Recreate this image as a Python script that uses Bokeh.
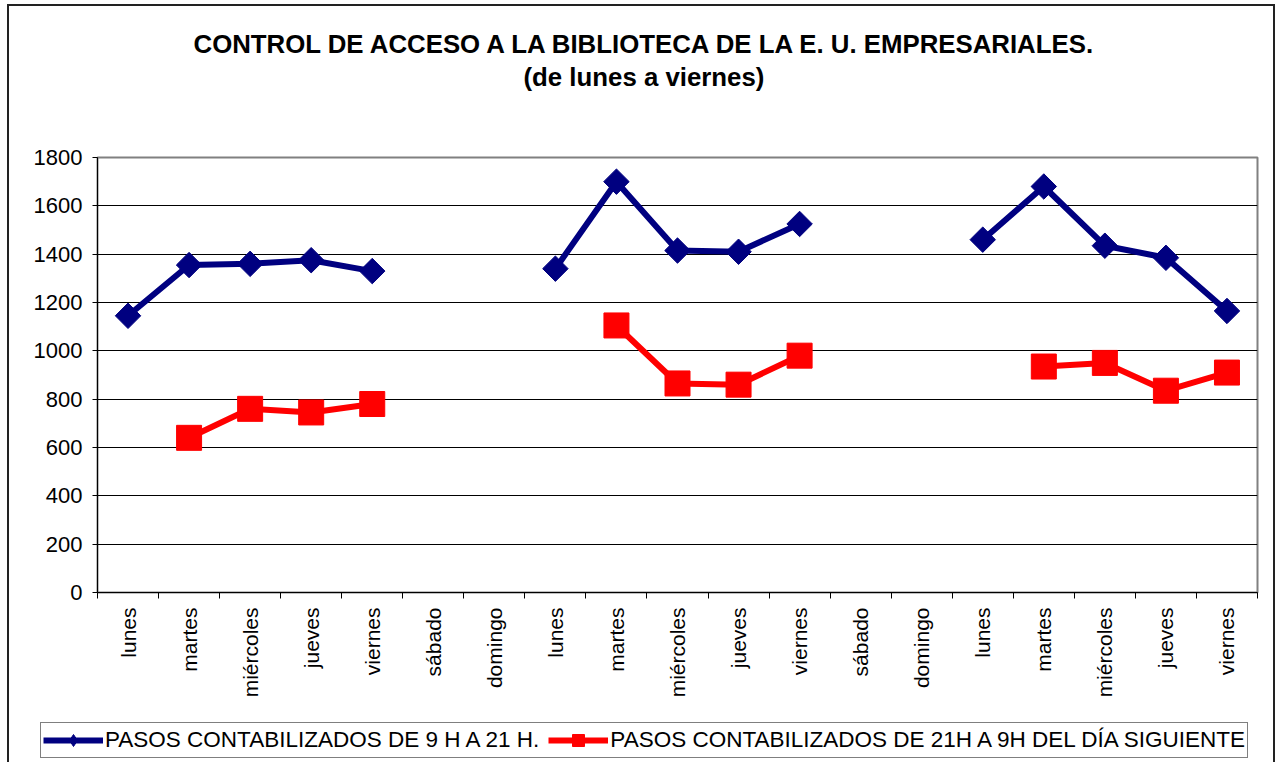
import math
import numpy as np
from bokeh.plotting import figure
from bokeh.layouts import column
from bokeh.models import Range1d, FixedTicker, Title, Legend, LegendItem
from bokeh.embed import file_html
from bokeh.resources import INLINE

nan = np.nan

days = ["lunes", "martes", "miércoles", "jueves", "viernes", "sábado", "domingo",
        "lunes", "martes", "miércoles", "jueves", "viernes", "sábado", "domingo",
        "lunes", "martes", "miércoles", "jueves", "viernes"]

day_counts = [1145, 1355, 1360, 1375, 1330, nan, nan,
              1340, 1700, 1415, 1410, 1525, nan, nan,
              1460, 1680, 1435, 1385, 1165]

night_counts = [nan, 640, 760, 745, 780, nan, nan,
                nan, 1105, 865, 860, 980, nan, nan,
                nan, 935, 950, 835, 910]

y_ticks = [0, 200, 400, 600, 800, 1000, 1200, 1400, 1600, 1800]

title_1 = "CONTROL DE ACCESO A LA BIBLIOTECA DE LA E. U. EMPRESARIALES."
title_2 = "(de lunes a viernes)"
label_day = "PASOS CONTABILIZADOS DE 9 H A 21 H."
label_night = "PASOS CONTABILIZADOS DE 21H A 9H DEL DÍA SIGUIENTE"

NAVY = "#000080"
RED = "#FF0000"
FONT = "Liberation Sans"

x = [i + 0.5 for i in range(len(days))]
day_arr = np.array(day_counts, dtype=float)
night_arr = np.array(night_counts, dtype=float)

# ---------------- main chart ----------------
p = figure(width=1264, height=710, output_backend="svg", toolbar_location=None,
           x_range=Range1d(0, len(days)), y_range=Range1d(0, 1800),
           min_border_left=88, min_border_right=16, min_border_top=151, min_border_bottom=124)
p.frame_align = False
p.background_fill_color = "white"
p.border_fill_color = "white"
p.outline_line_color = "#808080"
p.outline_line_width = 2

# titles: p.title is outermost; items added to "above" stack outward from the frame
p.title.text = title_1
p.title.align = "left"
p.title.offset = 96
p.title.standoff = 6
p.title.text_font = FONT
p.title.text_font_size = "25.8px"
p.title.text_font_style = "bold"
p.title.text_color = "black"
p.add_layout(Title(text=" ", text_font_size="1px", standoff=64), "above")
p.add_layout(Title(text=title_2, align="left", offset=426, standoff=0,
                   text_font=FONT, text_font_size="25.8px", text_font_style="bold",
                   text_color="black"), "above")

# grid
p.xgrid.visible = False
p.ygrid.grid_line_color = "black"
p.ygrid.grid_line_width = 1

# y axis
p.yaxis.ticker = FixedTicker(ticks=y_ticks, minor_ticks=[])
p.yaxis.axis_line_color = "black"
p.yaxis.major_tick_out = 5
p.yaxis.major_tick_in = 0
p.yaxis.minor_tick_line_color = None
p.yaxis.major_label_standoff = 10
p.yaxis.major_label_text_font = FONT
p.yaxis.major_label_text_font_size = "22px"
p.yaxis.major_label_text_color = "black"

# x axis
p.xaxis.ticker = FixedTicker(ticks=x, minor_ticks=list(range(len(days) + 1)))
p.xaxis.major_label_overrides = {xi: d for xi, d in zip(x, days)}
p.xaxis.major_label_orientation = math.pi / 2
p.xaxis.axis_line_color = "black"
p.xaxis.major_tick_line_color = None
p.xaxis.major_tick_out = 0
p.xaxis.major_tick_in = 0
p.xaxis.minor_tick_line_color = "black"
p.xaxis.minor_tick_in = 0
p.xaxis.minor_tick_out = 6
p.xaxis.major_label_standoff = 9
p.xaxis.major_label_text_font = FONT
p.xaxis.major_label_text_font_size = "21px"
p.xaxis.major_label_text_color = "black"

# series
p.line(x, day_arr, line_color=NAVY, line_width=6)
p.scatter(x, day_arr, marker="square", angle=math.pi / 4, size=18,
          fill_color=NAVY, line_color=NAVY)
p.line(x, night_arr, line_color=RED, line_width=6)
p.scatter(x, night_arr, marker="square", size=25, fill_color=RED, line_color=RED)

# ---------------- legend strip ----------------
pl = figure(width=1264, height=46, output_backend="svg", toolbar_location=None,
            x_range=Range1d(0, 1), y_range=Range1d(0, 1), min_border=0)
pl.frame_align = False
pl.axis.visible = False
pl.grid.visible = False
pl.outline_line_color = None
pl.background_fill_color = "white"
pl.border_fill_color = "white"

day_leg_line = pl.line([nan], [nan], line_color=NAVY, line_width=6)
day_leg_mark = pl.scatter([nan], [nan], marker="diamond", size=16, fill_color=NAVY, line_color=NAVY)
night_leg_line = pl.line([nan], [nan], line_color=RED, line_width=6)
night_leg_mark = pl.scatter([nan], [nan], marker="square", size=15, fill_color=RED, line_color=RED)

legend = Legend(items=[LegendItem(label=label_day, renderers=[day_leg_line, day_leg_mark]),
                       LegendItem(label=label_night, renderers=[night_leg_line, night_leg_mark])],
                orientation="horizontal", location=(31, 4),
                padding=2, spacing=9, label_standoff=2, glyph_width=60, glyph_height=30,
                label_text_font=FONT, label_text_font_size="22.5px", label_text_color="black",
                border_line_color="black", border_line_width=1,
                background_fill_color="white", background_fill_alpha=1.0,
                margin=0)
pl.add_layout(legend)

layout = column(p, pl, spacing=0)
layout.styles = {"border-left": "2px solid #222", "border-top": "2px solid #222",
                 "border-right": "2px solid #222", "margin-left": "7px", "margin-top": "4px"}

open("out.html", "w").write(file_html(layout, INLINE))
